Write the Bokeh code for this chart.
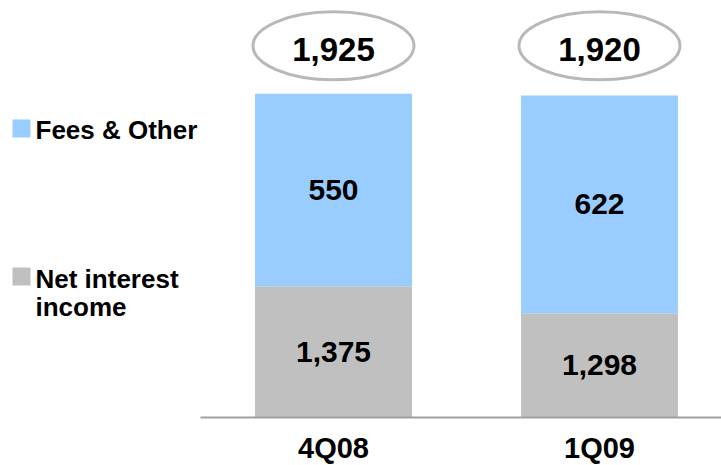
from bokeh.plotting import figure
from bokeh.models import Range1d, Label, BoxAnnotation, ColumnDataSource
from bokeh.core.properties import value
from bokeh.embed import file_html
from bokeh.resources import INLINE

# ---- data ----
categories = ["4Q08", "1Q09"]
net_interest = [1375, 1298]
fees_other = [550, 622]
series_names = ["Fees & Other", "Net interest income"]
axis_base = 1000  # value axis starts at 1,000

totals = [a + b for a, b in zip(net_interest, fees_other)]
xs = [i + 0.5 for i in range(len(categories))]

BLUE = "#99CCFF"
GRAY = "#C0C0C0"
FONT_NAME = "Liberation Sans"
FONT = value(FONT_NAME)

W, H = 721, 465
px_per_x = 266.0
px_per_y = 0.35
frame_left_px = 200
baseline_px = 417

x_start = 0 - frame_left_px / px_per_x
x_end = x_start + W / px_per_x
y_start = axis_base - (H - baseline_px) / px_per_y
y_end = axis_base + baseline_px / px_per_y

p = figure(width=W, height=H, output_backend="svg", toolbar_location=None,
           x_range=Range1d(x_start, x_end), y_range=Range1d(y_start, y_end),
           x_axis_location=None, y_axis_location=None, min_border=0,
           outline_line_color=None)
p.xgrid.visible = False
p.ygrid.visible = False
p.background_fill_color = "white"
p.border_fill_color = "white"

src = ColumnDataSource(dict(
    x=xs,
    base=[axis_base] * len(xs),
    ni_top=net_interest,
    fo_top=totals,
    ni_mid=[(axis_base + v) / 2 for v in net_interest],
    fo_mid=[n + f / 2 for n, f in zip(net_interest, fees_other)],
    ni_lbl=[f"{v:,}" for v in net_interest],
    fo_lbl=[f"{v:,}" for v in fees_other],
    tot_lbl=[f"{v:,}" for v in totals],
    tot_y=[axis_base + 1062] * len(xs),
    cat=categories,
))

bar_w = 0.59
p.vbar(x="x", bottom="base", top="ni_top", width=bar_w, source=src,
       fill_color=GRAY, line_color=None)
p.vbar(x="x", bottom="ni_top", top="fo_top", width=bar_w, source=src,
       fill_color=BLUE, line_color=None)

# baseline (category axis line)
p.segment(x0=[0], y0=[axis_base], x1=[len(categories)], y1=[axis_base],
          line_color="#A0A0A0", line_width=2)

# segment labels
p.text(x="x", y="ni_mid", text="ni_lbl", source=src, text_font=FONT,
       text_font_style="bold", text_font_size="30px", text_align="center",
       text_baseline="middle", text_color="black")
p.text(x="x", y="fo_mid", text="fo_lbl", source=src, text_font=FONT,
       text_font_style="bold", text_font_size="30px", text_align="center",
       text_baseline="middle", text_color="black")

# totals in ellipses
p.ellipse(x="x", y="tot_y", width=161, height=68, width_units="screen",
          height_units="screen", source=src, fill_color="white",
          line_color="#B8B8B8", line_width=3)
p.text(x="x", y="tot_y", text="tot_lbl", source=src, text_font=FONT,
       text_font_style="bold", text_font_size="33px", text_align="center",
       text_baseline="middle", y_offset=4, text_color="black")

# category labels
p.text(x="x", y="base", text="cat", source=src, text_font=FONT,
       text_font_style="bold", text_font_size="29px", text_align="center",
       text_baseline="middle", y_offset=30, text_color="black")

# legend (manual, left side)
def legend_square(top_px, color):
    p.add_layout(BoxAnnotation(left=12, right=30, top=H - top_px, bottom=H - top_px - 18,
                               left_units="screen", right_units="screen",
                               top_units="screen", bottom_units="screen",
                               fill_color=color, fill_alpha=1.0, line_color=None))

def legend_text(txt, center_canvas_px):
    p.add_layout(Label(x=35, y=H - center_canvas_px, x_units="screen", y_units="screen",
                       text=txt, text_font=FONT_NAME, text_font_style="bold",
                       text_font_size="26px", text_baseline="middle",
                       text_align="left", text_color="black"))

legend_square(119, BLUE)
legend_text(series_names[0], 129)
legend_square(267, GRAY)
ni_words = series_names[1].rsplit(" ", 1)
legend_text(ni_words[0], 278)
legend_text(ni_words[1], 306)

open("out.html", "w").write(file_html(p, INLINE))
